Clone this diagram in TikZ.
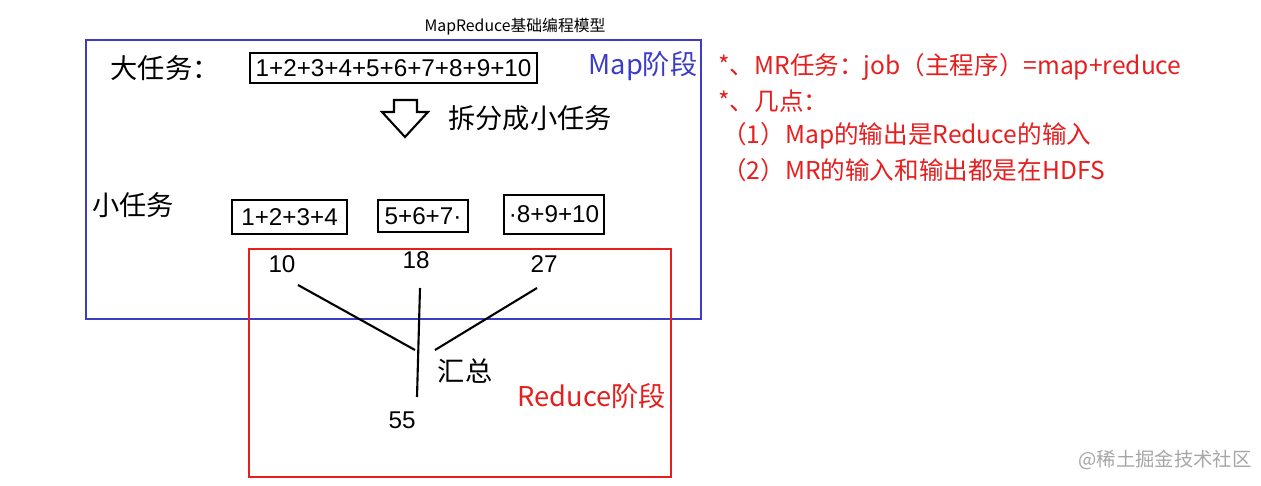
\documentclass[tikz,border=0pt]{standalone}
\usepackage{fontspec}
\setmainfont{Liberation Sans}
\newfontfamily\cjk{Noto Sans CJK SC}
\definecolor{myblue}{RGB}{60,60,200}
\definecolor{myred}{RGB}{230,30,30}
\begin{document}
\begin{tikzpicture}[x=0.02cm,y=-0.02cm,
  lbl/.style={font=\cjk\fontsize{15.5}{17}\selectfont,inner sep=0},
  num/.style={font=\fontsize{13.8}{15}\selectfont,inner sep=0},
  rt/.style={font=\cjk\fontsize{14}{16}\selectfont,text=myred,inner sep=0,anchor=west},
  task/.style={draw,line width=1.2pt,font=\fontsize{13.8}{15}\selectfont,inner sep=0,anchor=north west},
  ln/.style={line width=1.2pt}]
\useasboundingbox (0,0) rectangle (1261,486);
\node[font=\cjk\fontsize{9}{10}\selectfont] (title) at (515,27) {MapReduce基础编程模型};
\draw[line width=1.3pt,myblue] (86,40) rectangle (701,319);
\draw[line width=1.3pt,myred] (249,249) rectangle (671,477);
\node[lbl] (big) at (165,68) {大任务：};
\node[task,minimum width=5.74cm,minimum height=0.6cm] (bigbox) at (249,52) {1+2+3+4+5+6+7+8+9+10};
\node[lbl,text=myblue] (map) at (643,66) {Map阶段};
\draw[line width=1.2pt] (394,100) -- (417,100) -- (417,112) -- (428,112) -- (405,137) -- (382,112) -- (394,112) -- cycle;
\node[lbl] (split) at (530,118) {拆分成小任务};
\node[lbl] (small) at (133,205) {小任务};
\node[task,minimum width=2.3cm,minimum height=0.68cm] (b1) at (231,199) {1+2+3+4};
\node[task,minimum width=1.8cm,minimum height=0.64cm] (b2) at (377,199) {5+6+7·};
\node[task,minimum width=2.0cm,minimum height=0.78cm] (b3) at (503,194) {·8+9+10};
\node[num] (n10) at (282,264) {10};
\node[num] (n18) at (416,260) {18};
\node[num] (n27) at (544,264) {27};
\coordinate (a1) at (298,285); \coordinate (a2) at (415,350);
\coordinate (c1) at (420,288); \coordinate (c2) at (417,397);
\coordinate (d1) at (537,288); \coordinate (d2) at (435,350);
\draw[ln] (a1) -- (a2); \draw[ln] (c1) -- (c2); \draw[ln] (d1) -- (d2);
\node[lbl] (sum) at (465,371) {汇总};
\node[num] (n55) at (402,420) {55};
\node[lbl,text=myred] (red) at (592,396) {Reduce阶段};
\node[rt] (r1) at (718,67) {*、MR任务：job（主程序）=map+reduce};
\node[rt] (r2) at (718,101) {*、几点：};
\node[rt] (r3) at (722,136) {（1）Map的输出是Reduce的输入};
\node[rt] (r4) at (722,170) {（2）MR的输入和输出都是在HDFS};
\node[font=\cjk\fontsize{11}{12}\selectfont,text=gray!70,inner sep=0] (wm) at (1165,460) {@稀土掘金技术社区};
\end{tikzpicture}
\end{document}
